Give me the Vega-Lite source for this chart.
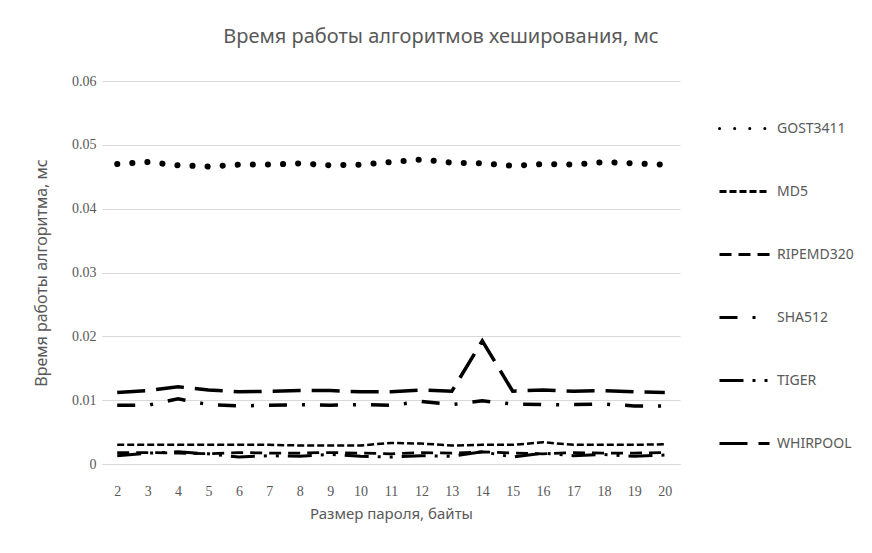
{
  "$schema": "https://vega.github.io/schema/vega-lite/v6.json",
  "autosize": "none",
  "width": 578,
  "height": 383,
  "padding": {"left": 102, "top": 81, "right": 192, "bottom": 89},
  "background": "white",
  "title": {
    "text": "Время работы алгоритмов хеширования, мс",
    "fontSize": 20,
    "font": "Noto Sans",
    "fontWeight": "normal",
    "color": "#595959",
    "anchor": "middle",
    "frame": "group",
    "dx": 50,
    "offset": 27
  },
  "config": {
    "view": {"stroke": null},
    "axis": {
      "labelFont": "Liberation Serif",
      "labelFontSize": 14,
      "labelColor": "#595959",
      "titleFont": "Noto Sans",
      "titleFontSize": 15,
      "titleFontWeight": "normal",
      "titleColor": "#595959"
    },
    "legend": {
      "labelFont": "Noto Sans",
      "labelFontSize": 13,
      "labelColor": "#595959"
    }
  },
  "data": {
    "values": [
      {"x": 2, "alg": "GOST3411", "v": 0.0470}, {"x": 3, "alg": "GOST3411", "v": 0.0473}, {"x": 4, "alg": "GOST3411", "v": 0.0468}, {"x": 5, "alg": "GOST3411", "v": 0.0466}, {"x": 6, "alg": "GOST3411", "v": 0.0469}, {"x": 7, "alg": "GOST3411", "v": 0.0469}, {"x": 8, "alg": "GOST3411", "v": 0.0471}, {"x": 9, "alg": "GOST3411", "v": 0.0468}, {"x": 10, "alg": "GOST3411", "v": 0.0469}, {"x": 11, "alg": "GOST3411", "v": 0.0473}, {"x": 12, "alg": "GOST3411", "v": 0.0477}, {"x": 13, "alg": "GOST3411", "v": 0.0472}, {"x": 14, "alg": "GOST3411", "v": 0.0471}, {"x": 15, "alg": "GOST3411", "v": 0.0467}, {"x": 16, "alg": "GOST3411", "v": 0.0470}, {"x": 17, "alg": "GOST3411", "v": 0.0469}, {"x": 18, "alg": "GOST3411", "v": 0.0473}, {"x": 19, "alg": "GOST3411", "v": 0.0471}, {"x": 20, "alg": "GOST3411", "v": 0.0469},
      {"x": 2, "alg": "MD5", "v": 0.0030}, {"x": 3, "alg": "MD5", "v": 0.0030}, {"x": 4, "alg": "MD5", "v": 0.0030}, {"x": 5, "alg": "MD5", "v": 0.0030}, {"x": 6, "alg": "MD5", "v": 0.0030}, {"x": 7, "alg": "MD5", "v": 0.0030}, {"x": 8, "alg": "MD5", "v": 0.0029}, {"x": 9, "alg": "MD5", "v": 0.0029}, {"x": 10, "alg": "MD5", "v": 0.0029}, {"x": 11, "alg": "MD5", "v": 0.0033}, {"x": 12, "alg": "MD5", "v": 0.0032}, {"x": 13, "alg": "MD5", "v": 0.0029}, {"x": 14, "alg": "MD5", "v": 0.0030}, {"x": 15, "alg": "MD5", "v": 0.0030}, {"x": 16, "alg": "MD5", "v": 0.0034}, {"x": 17, "alg": "MD5", "v": 0.0030}, {"x": 18, "alg": "MD5", "v": 0.0030}, {"x": 19, "alg": "MD5", "v": 0.0030}, {"x": 20, "alg": "MD5", "v": 0.0031},
      {"x": 2, "alg": "RIPEMD320", "v": 0.0018}, {"x": 3, "alg": "RIPEMD320", "v": 0.0018}, {"x": 4, "alg": "RIPEMD320", "v": 0.0017}, {"x": 5, "alg": "RIPEMD320", "v": 0.0016}, {"x": 6, "alg": "RIPEMD320", "v": 0.0018}, {"x": 7, "alg": "RIPEMD320", "v": 0.0017}, {"x": 8, "alg": "RIPEMD320", "v": 0.0017}, {"x": 9, "alg": "RIPEMD320", "v": 0.0018}, {"x": 10, "alg": "RIPEMD320", "v": 0.0017}, {"x": 11, "alg": "RIPEMD320", "v": 0.0016}, {"x": 12, "alg": "RIPEMD320", "v": 0.0018}, {"x": 13, "alg": "RIPEMD320", "v": 0.0017}, {"x": 14, "alg": "RIPEMD320", "v": 0.0019}, {"x": 15, "alg": "RIPEMD320", "v": 0.0017}, {"x": 16, "alg": "RIPEMD320", "v": 0.0016}, {"x": 17, "alg": "RIPEMD320", "v": 0.0018}, {"x": 18, "alg": "RIPEMD320", "v": 0.0017}, {"x": 19, "alg": "RIPEMD320", "v": 0.0017}, {"x": 20, "alg": "RIPEMD320", "v": 0.0018},
      {"x": 2, "alg": "SHA512", "v": 0.0092}, {"x": 3, "alg": "SHA512", "v": 0.0092}, {"x": 4, "alg": "SHA512", "v": 0.0102}, {"x": 5, "alg": "SHA512", "v": 0.0093}, {"x": 6, "alg": "SHA512", "v": 0.0091}, {"x": 7, "alg": "SHA512", "v": 0.0092}, {"x": 8, "alg": "SHA512", "v": 0.0093}, {"x": 9, "alg": "SHA512", "v": 0.0092}, {"x": 10, "alg": "SHA512", "v": 0.0093}, {"x": 11, "alg": "SHA512", "v": 0.0092}, {"x": 12, "alg": "SHA512", "v": 0.0098}, {"x": 13, "alg": "SHA512", "v": 0.0093}, {"x": 14, "alg": "SHA512", "v": 0.0099}, {"x": 15, "alg": "SHA512", "v": 0.0094}, {"x": 16, "alg": "SHA512", "v": 0.0093}, {"x": 17, "alg": "SHA512", "v": 0.0093}, {"x": 18, "alg": "SHA512", "v": 0.0094}, {"x": 19, "alg": "SHA512", "v": 0.0091}, {"x": 20, "alg": "SHA512", "v": 0.0091},
      {"x": 2, "alg": "TIGER", "v": 0.0013}, {"x": 3, "alg": "TIGER", "v": 0.0017}, {"x": 4, "alg": "TIGER", "v": 0.0019}, {"x": 5, "alg": "TIGER", "v": 0.0016}, {"x": 6, "alg": "TIGER", "v": 0.0011}, {"x": 7, "alg": "TIGER", "v": 0.0013}, {"x": 8, "alg": "TIGER", "v": 0.0012}, {"x": 9, "alg": "TIGER", "v": 0.0015}, {"x": 10, "alg": "TIGER", "v": 0.0012}, {"x": 11, "alg": "TIGER", "v": 0.0011}, {"x": 12, "alg": "TIGER", "v": 0.0013}, {"x": 13, "alg": "TIGER", "v": 0.0012}, {"x": 14, "alg": "TIGER", "v": 0.0019}, {"x": 15, "alg": "TIGER", "v": 0.0011}, {"x": 16, "alg": "TIGER", "v": 0.0017}, {"x": 17, "alg": "TIGER", "v": 0.0013}, {"x": 18, "alg": "TIGER", "v": 0.0015}, {"x": 19, "alg": "TIGER", "v": 0.0012}, {"x": 20, "alg": "TIGER", "v": 0.0014},
      {"x": 2, "alg": "WHIRPOOL", "v": 0.0112}, {"x": 3, "alg": "WHIRPOOL", "v": 0.0115}, {"x": 4, "alg": "WHIRPOOL", "v": 0.0121}, {"x": 5, "alg": "WHIRPOOL", "v": 0.0116}, {"x": 6, "alg": "WHIRPOOL", "v": 0.0113}, {"x": 7, "alg": "WHIRPOOL", "v": 0.0114}, {"x": 8, "alg": "WHIRPOOL", "v": 0.0115}, {"x": 9, "alg": "WHIRPOOL", "v": 0.0115}, {"x": 10, "alg": "WHIRPOOL", "v": 0.0113}, {"x": 11, "alg": "WHIRPOOL", "v": 0.0113}, {"x": 12, "alg": "WHIRPOOL", "v": 0.0116}, {"x": 13, "alg": "WHIRPOOL", "v": 0.0114}, {"x": 14, "alg": "WHIRPOOL", "v": 0.0193}, {"x": 15, "alg": "WHIRPOOL", "v": 0.0114}, {"x": 16, "alg": "WHIRPOOL", "v": 0.0116}, {"x": 17, "alg": "WHIRPOOL", "v": 0.0114}, {"x": 18, "alg": "WHIRPOOL", "v": 0.0115}, {"x": 19, "alg": "WHIRPOOL", "v": 0.0113}, {"x": 20, "alg": "WHIRPOOL", "v": 0.0112}
    ]
  },
  "encoding": {
    "x": {
      "field": "x",
      "type": "ordinal",
      "scale": {"padding": 0.5},
      "axis": {
        "title": "Размер пароля, байты",
        "labelAngle": 0,
        "ticks": false,
        "domainColor": "#d9d9d9",
        "labelPadding": 20,
        "titlePadding": 8
      }
    },
    "y": {
      "field": "v",
      "type": "quantitative",
      "scale": {"domain": [0, 0.06], "nice": false},
      "axis": {
        "title": "Время работы алгоритма, мс",
        "values": [0, 0.01, 0.02, 0.03, 0.04, 0.05, 0.06],
        "labelExpr": "datum.value == 0 ? '0' : format(datum.value, '.2f')",
        "domain": false,
        "ticks": false,
        "gridColor": "#d9d9d9",
        "labelPadding": 6,
        "titlePadding": 22,
        "titleFontSize": 16
      }
    },
    "strokeDash": {
      "field": "alg",
      "type": "nominal",
      "scale": {
        "domain": ["GOST3411", "MD5", "RIPEMD320", "SHA512", "TIGER", "WHIRPOOL"],
        "range": [[0.1, 15], [7, 3], [12, 7], [18, 15, 3, 15], [24, 9, 3, 9, 3, 9], [28, 11]]
      },
      "legend": {
        "title": null,
        "orient": "none",
        "legendX": 616,
        "legendY": 21,
        "symbolType": "stroke",
        "symbolSize": 2500,
        "symbolStrokeWidth": 3,
        "symbolStrokeColor": "black",
        "rowPadding": 29,
        "labelOffset": 6,
        "labelFontSize": 14,
        "padding": 0,
        "encode": {
          "symbols": {
            "update": {
              "strokeCap": {"signal": "datum.value === 'GOST3411' ? 'round' : 'butt'"}
            }
          }
        }
      }
    }
  },
  "layer": [
    {"transform": [{"filter": "datum.alg == 'GOST3411'"}], "mark": {"type": "line", "color": "black", "strokeWidth": 6, "strokeCap": "round"}},
    {"transform": [{"filter": "datum.alg == 'MD5'"}], "mark": {"type": "line", "color": "black", "strokeWidth": 2.5, "strokeCap": "butt"}},
    {"transform": [{"filter": "datum.alg == 'RIPEMD320'"}], "mark": {"type": "line", "color": "black", "strokeWidth": 2.75, "strokeCap": "butt"}},
    {"transform": [{"filter": "datum.alg == 'SHA512'"}], "mark": {"type": "line", "color": "black", "strokeWidth": 3.5, "strokeCap": "butt"}},
    {"transform": [{"filter": "datum.alg == 'TIGER'"}], "mark": {"type": "line", "color": "black", "strokeWidth": 3, "strokeCap": "butt"}},
    {"transform": [{"filter": "datum.alg == 'WHIRPOOL'"}], "mark": {"type": "line", "color": "black", "strokeWidth": 3.5, "strokeCap": "butt"}}
  ]
}
